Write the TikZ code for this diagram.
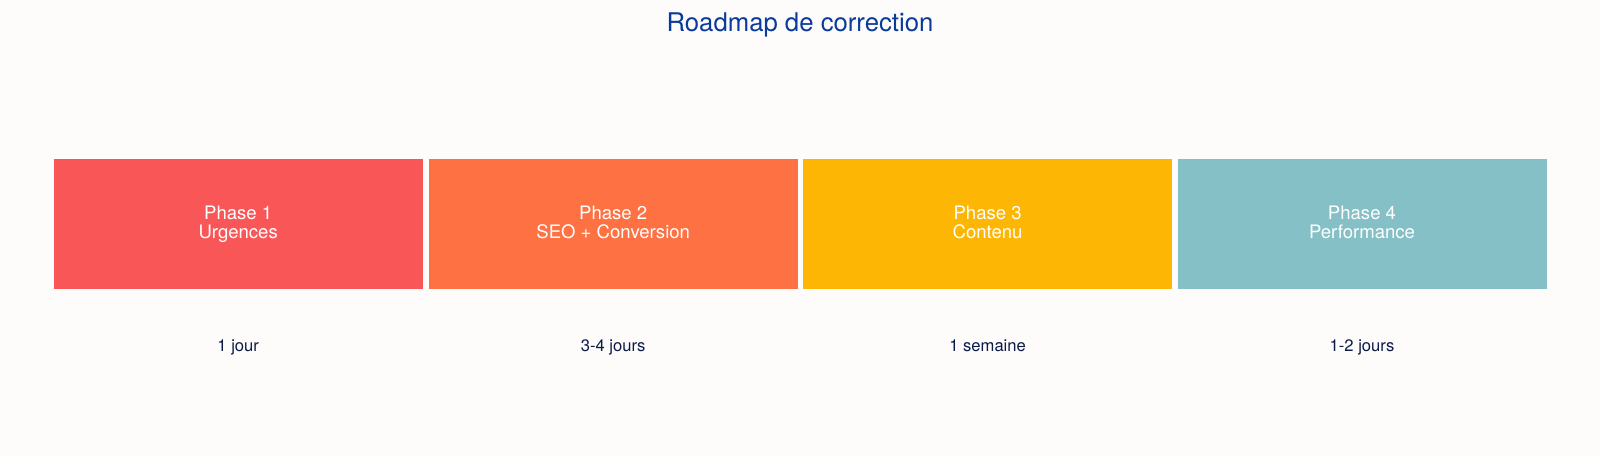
\documentclass[tikz,border=0pt]{standalone}
\usepackage{fontspec}
\setmainfont{TeX Gyre Heros}
\definecolor{bgcol}{HTML}{FDFCFA}
\definecolor{urgred}{HTML}{F95757}
\definecolor{seoorange}{HTML}{FE7143}
\definecolor{contyellow}{HTML}{FDB603}
\definecolor{perfteal}{HTML}{84C0C6}
\definecolor{titleblue}{HTML}{0A3A9C}
\definecolor{durnavy}{HTML}{0C1A48}

\begin{document}
\begin{tikzpicture}[
    phase/.style={rectangle, minimum width=9.225cm, minimum height=3.265cm, inner sep=0pt, align=center, text depth=0.25em, text=white, font=\fontsize{13.2}{14.2}\selectfont},
    duration/.style={anchor=base, text=durnavy, font=\fontsize{11.8}{14}\selectfont}
]
    % Background
    \fill[bgcol] (0,0) rectangle (40,-11.4);

    % Title
    \node[anchor=base, text=titleblue, font=\fontsize{18.3}{22}\selectfont] (title) at (20,-0.79) {Roadmap de correction};

    % Phases
    \node[phase, fill=urgred] (urgences) at (5.955,-5.6) {Phase 1\\Urgences};
    \node[phase, fill=seoorange] (seo) at (15.33,-5.6) {Phase 2\\SEO + Conversion};
    \node[phase, fill=contyellow] (contenu) at (24.69,-5.6) {Phase 3\\Contenu};
    \node[phase, fill=perfteal] (perf) at (34.05,-5.6) {Phase 4\\Performance};

    % Durations
    \node[duration] (dururg) at (5.955,-8.79) {1 jour};
    \node[duration] (durseo) at (15.33,-8.79) {3-4 jours};
    \node[duration] (durcont) at (24.69,-8.79) {1 semaine};
    \node[duration] (durperf) at (34.05,-8.79) {1-2 jours};
\end{tikzpicture}
\end{document}
